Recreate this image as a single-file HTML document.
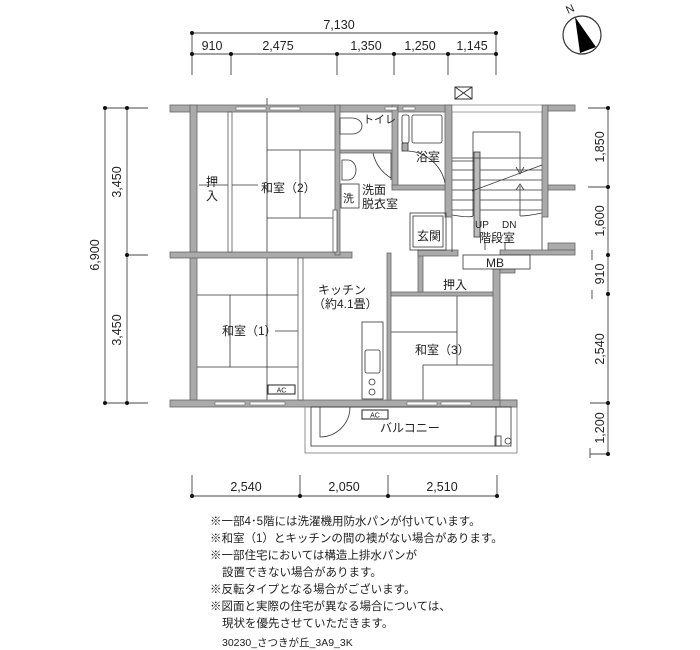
<!DOCTYPE html>
<html><head><meta charset="utf-8">
<style>
html,body{margin:0;padding:0;background:#fff;}
svg{display:block;}
text{font-family:"Liberation Sans","Noto Sans CJK JP",sans-serif;fill:#222;}
.w{fill:#aaaaaa;stroke:#666;stroke-width:0.8;}
.t{stroke:#333;stroke-width:0.8;fill:none;}
.d{stroke:#444;stroke-width:0.9;fill:none;}
</style></head>
<body>
<svg width="700" height="650" viewBox="0 0 700 650" xmlns="http://www.w3.org/2000/svg">
<g class="d">
<line x1="192" y1="33" x2="496" y2="33"/>
<line x1="192" y1="54" x2="496" y2="54"/>
<line x1="192" y1="33" x2="192" y2="75"/>
<line x1="496" y1="33" x2="496" y2="75"/>
<line x1="231" y1="54" x2="231" y2="75"/>
<line x1="337" y1="54" x2="337" y2="75"/>
<line x1="394" y1="54" x2="394" y2="75"/>
<line x1="448" y1="54" x2="448" y2="75"/>
</g>
<g fill="#111">
<circle cx="192" cy="33" r="2"/><circle cx="496" cy="33" r="2"/>
<circle cx="192" cy="54" r="2"/><circle cx="231" cy="54" r="2"/><circle cx="337" cy="54" r="2"/><circle cx="394" cy="54" r="2"/><circle cx="448" cy="54" r="2"/><circle cx="496" cy="54" r="2"/>
</g>
<g font-size="12.5" text-anchor="middle">
<text x="339" y="29">7,130</text>
<text x="212" y="50">910</text>
<text x="278" y="50">2,475</text>
<text x="366" y="50">1,350</text>
<text x="420" y="50">1,250</text>
<text x="472" y="50">1,145</text>
</g>
<g class="d">
<line x1="105" y1="108" x2="105" y2="403"/>
<line x1="127" y1="108" x2="127" y2="403"/>
<line x1="105" y1="108" x2="148" y2="108"/>
<line x1="105" y1="403" x2="148" y2="403"/>
<line x1="127" y1="255" x2="148" y2="255"/>
</g>
<g fill="#111"><circle cx="105" cy="108" r="2"/><circle cx="127" cy="108" r="2"/><circle cx="127" cy="255" r="2"/><circle cx="105" cy="403" r="2"/><circle cx="127" cy="403" r="2"/></g>
<g font-size="12.5" text-anchor="middle">
<text transform="translate(99,255) rotate(-90)">6,900</text>
<text transform="translate(121,182) rotate(-90)">3,450</text>
<text transform="translate(121,330) rotate(-90)">3,450</text>
</g>
<g class="d">
<line x1="608" y1="108" x2="608" y2="454"/>
<line x1="588" y1="108" x2="608" y2="108"/>
<line x1="588" y1="187" x2="608" y2="187"/>
<line x1="592" y1="250" x2="592" y2="260"/>
<line x1="592" y1="290" x2="592" y2="299"/>
<line x1="590" y1="403" x2="608" y2="403"/>
<line x1="590" y1="454" x2="608" y2="454"/>
<line x1="590" y1="448" x2="590" y2="458"/>
</g>
<g fill="#111"><circle cx="608" cy="108" r="2"/><circle cx="608" cy="187" r="2"/><circle cx="608" cy="255" r="2"/><circle cx="608" cy="294" r="2"/><circle cx="608" cy="403" r="2"/><circle cx="608" cy="454" r="2"/></g>
<g font-size="12.5" text-anchor="middle">
<text transform="translate(604,147) rotate(-90)">1,850</text>
<text transform="translate(604,221) rotate(-90)">1,600</text>
<text transform="translate(604,274) rotate(-90)">910</text>
<text transform="translate(604,349) rotate(-90)">2,540</text>
<text transform="translate(604,428) rotate(-90)">1,200</text>
</g>
<g class="d">
<line x1="192" y1="496" x2="497" y2="496"/>
<line x1="192" y1="475" x2="192" y2="496"/>
<line x1="300" y1="475" x2="300" y2="496"/>
<line x1="388" y1="475" x2="388" y2="496"/>
<line x1="497" y1="475" x2="497" y2="496"/>
</g>
<g fill="#111"><circle cx="192" cy="496" r="2"/><circle cx="300" cy="496" r="2"/><circle cx="388" cy="496" r="2"/><circle cx="497" cy="496" r="2"/></g>
<g font-size="12.5" text-anchor="middle">
<text x="246" y="491">2,540</text>
<text x="344" y="491">2,050</text>
<text x="442" y="491">2,510</text>
</g>
<circle cx="582" cy="35" r="19" fill="#fff" stroke="#333" stroke-width="1.2"/>
<polygon points="575,17 596,47 580,53" fill="#000"/>
<text transform="translate(568,14) rotate(-25)" font-size="11">N</text>
<rect x="455" y="87" width="17" height="12" fill="#fff" stroke="#333" stroke-width="1"/>
<path d="M455,87 L472,99 M472,87 L455,99" stroke="#333" stroke-width="1"/>

<g class="t">
<line x1="267" y1="98" x2="267" y2="400"/>
<line x1="267" y1="150" x2="335" y2="150"/>
<line x1="267" y1="218" x2="335" y2="218"/>
<line x1="300" y1="150" x2="300" y2="218"/>
<line x1="197" y1="295" x2="298" y2="295"/>
<line x1="197" y1="367" x2="298" y2="367"/>
<line x1="230" y1="295" x2="230" y2="367"/>
<line x1="391" y1="332" x2="457" y2="332"/>
<line x1="457" y1="296" x2="457" y2="365"/>
<line x1="423" y1="365" x2="493" y2="365"/>
<line x1="423" y1="365" x2="423" y2="400"/>
<line x1="199" y1="185" x2="228" y2="185"/>
<line x1="232" y1="185" x2="258" y2="185"/>
<line x1="303" y1="331" x2="275" y2="331"/>
</g>

<g class="w">
<rect x="170" y="105" width="282" height="7"/>
<rect x="190" y="105" width="7" height="300"/>
<rect x="170" y="252" width="182" height="6"/>
<rect x="170" y="400" width="347" height="7"/>
<rect x="335" y="105" width="5" height="150"/>
<rect x="392" y="105" width="6" height="82"/>
<rect x="392" y="185" width="53" height="5"/>
<rect x="445" y="105" width="7" height="112"/>
<rect x="542" y="105" width="6" height="112"/>
<rect x="548" y="105" width="27" height="6"/>
<rect x="548" y="185" width="27" height="5"/>
<rect x="548" y="243" width="27" height="7"/>
<rect x="387" y="253" width="4" height="147"/>
<rect x="391" y="292" width="102" height="4"/>
<rect x="493" y="268" width="7" height="132"/>
<rect x="418" y="250" width="5" height="42"/>
<rect x="418" y="250" width="40" height="6"/>
<rect x="500" y="268" width="15" height="5"/>
<rect x="500" y="400" width="17" height="7"/>
<rect x="500" y="250" width="75" height="5"/>
<rect x="340" y="150" width="52" height="3"/>
</g>
<g fill="#fff" stroke="#666" stroke-width="0.6">
<rect x="236" y="107" width="30" height="3"/>
<rect x="270" y="107" width="30" height="3"/>
<rect x="385" y="107" width="12" height="3"/>
<rect x="403" y="107" width="12" height="3"/>
<rect x="215" y="402" width="30" height="3"/>
<rect x="250" y="402" width="35" height="3"/>
<rect x="407" y="402" width="30" height="3"/>
<rect x="441" y="402" width="30" height="3"/>
<rect x="452" y="105" width="90" height="7"/>
</g>
<g stroke="#555" stroke-width="0.8" fill="#fff">
<rect x="228" y="112" width="4" height="140"/>
<rect x="298" y="258" width="5" height="142"/>
<rect x="333" y="210" width="4" height="42"/>
</g>
<g class="t">
<rect x="402" y="115" width="7" height="28" rx="2"/>
<rect x="412" y="115" width="30" height="28" rx="2"/>
<rect x="402" y="143" width="6" height="8" fill="#aaa"/>
<path d="M408,151 A40,40 0 0 1 445,183"/>
<path d="M373,153 A38,38 0 0 0 391,178"/>
<line x1="391" y1="153" x2="391" y2="180"/>
<path d="M340,118 L352,118 A10,8 0 1 1 352,134 L340,134 Z"/>
<path d="M342,160 L348,160 A8,10 0 1 1 348,180 L342,180 Z"/>
<rect x="341" y="184" width="18" height="24"/>
<rect x="410" y="213" width="36" height="37"/>
<rect x="413" y="216" width="30" height="31"/>
<rect x="474" y="152" width="6" height="85" fill="#bbb"/>
<line x1="452" y1="158" x2="542" y2="158"/>
<line x1="452" y1="161" x2="474" y2="161"/>
<line x1="452" y1="170" x2="474" y2="170"/>
<line x1="452" y1="180" x2="474" y2="180"/>
<line x1="452" y1="190" x2="474" y2="190"/>
<line x1="452" y1="200" x2="474" y2="200"/>
<line x1="452" y1="210" x2="474" y2="210"/>
<line x1="480" y1="170" x2="542" y2="170"/>
<line x1="480" y1="180" x2="542" y2="180"/>
<line x1="480" y1="190" x2="542" y2="190"/>
<line x1="480" y1="200" x2="542" y2="200"/>
<line x1="480" y1="210" x2="542" y2="210"/>
<line x1="472" y1="191" x2="542" y2="165"/>
<polyline points="473,216 473,132 520,132 520,172"/>
<line x1="520" y1="186" x2="520" y2="216"/>
<path d="M516,167 L520,174 L524,167 M516,190 L520,184 L524,190"/>
<path d="M452,215 Q470,218 473,216"/>
<path d="M520,216 Q528,216 542,213"/>
<line x1="452" y1="217" x2="452" y2="252"/>
<line x1="542" y1="217" x2="542" y2="250"/>
<line x1="485" y1="242" x2="485" y2="250"/>
<line x1="505" y1="242" x2="505" y2="250"/>
<rect x="463" y="255" width="67" height="14" fill="#fff"/>
<rect x="362" y="322" width="21" height="77"/>
<rect x="365" y="350" width="15" height="23" rx="2"/>
<circle cx="372" cy="382" r="3"/>
<circle cx="372" cy="392" r="3"/>
<rect x="305" y="407" width="212" height="46" fill="none" stroke="#777"/>
<rect x="311" y="407" width="200" height="39" fill="none"/>
<path d="M320,407 L320,437 A30,30 0 0 0 350,407"/>
<line x1="496" y1="407" x2="496" y2="446"/>
<rect x="495" y="436" width="6" height="10"/>
<circle cx="508" cy="441" r="3"/>
</g>
<g stroke="#222" stroke-width="1" fill="#fff">
<rect x="268" y="385" width="27" height="9"/>
<rect x="362" y="410" width="26" height="9"/>
</g>
<g font-size="7" text-anchor="middle"><text x="281.5" y="392.5">AC</text><text x="375" y="417.5">AC</text></g>
<g font-size="12">
<text x="206" y="186">押</text><text x="206" y="200">入</text>
<text x="261" y="192">和室（2）</text>
<text x="363" y="123" font-size="11">トイレ</text>
<text x="416" y="161">浴室</text>
<text x="343" y="202" font-size="11">洗</text>
<text x="362" y="194">洗面</text>
<text x="362" y="208">脱衣室</text>
<text x="417" y="240">玄関</text>
<text x="475" y="228" font-size="10">UP</text><text x="502" y="228" font-size="10">DN</text>
<text x="479" y="242">階段室</text>
<text x="486" y="267" font-size="12">MB</text>
<text x="443" y="289">押入</text>
<text x="318" y="294">キッチン</text>
<text x="313" y="308">（約4.1畳）</text>
<text x="222" y="335">和室（1）</text>
<text x="415" y="354">和室（3）</text>
<text x="380" y="432">バルコニー</text>
</g>
<g font-size="11.5">
<text x="210" y="525">※一部4･5階には洗濯機用防水パンが付いています。</text>
<text x="210" y="542">※和室（1）とキッチンの間の襖がない場合があります。</text>
<text x="210" y="559">※一部住宅においては構造上排水パンが</text>
<text x="222" y="576">設置できない場合があります。</text>
<text x="210" y="593">※反転タイプとなる場合がございます。</text>
<text x="210" y="610">※図面と実際の住宅が異なる場合については、</text>
<text x="222" y="627">現状を優先させていただきます。</text>
<text x="222" y="646" font-size="10.5">30230_さつきが丘_3A9_3K</text>
</g>
</svg>
</body></html>
